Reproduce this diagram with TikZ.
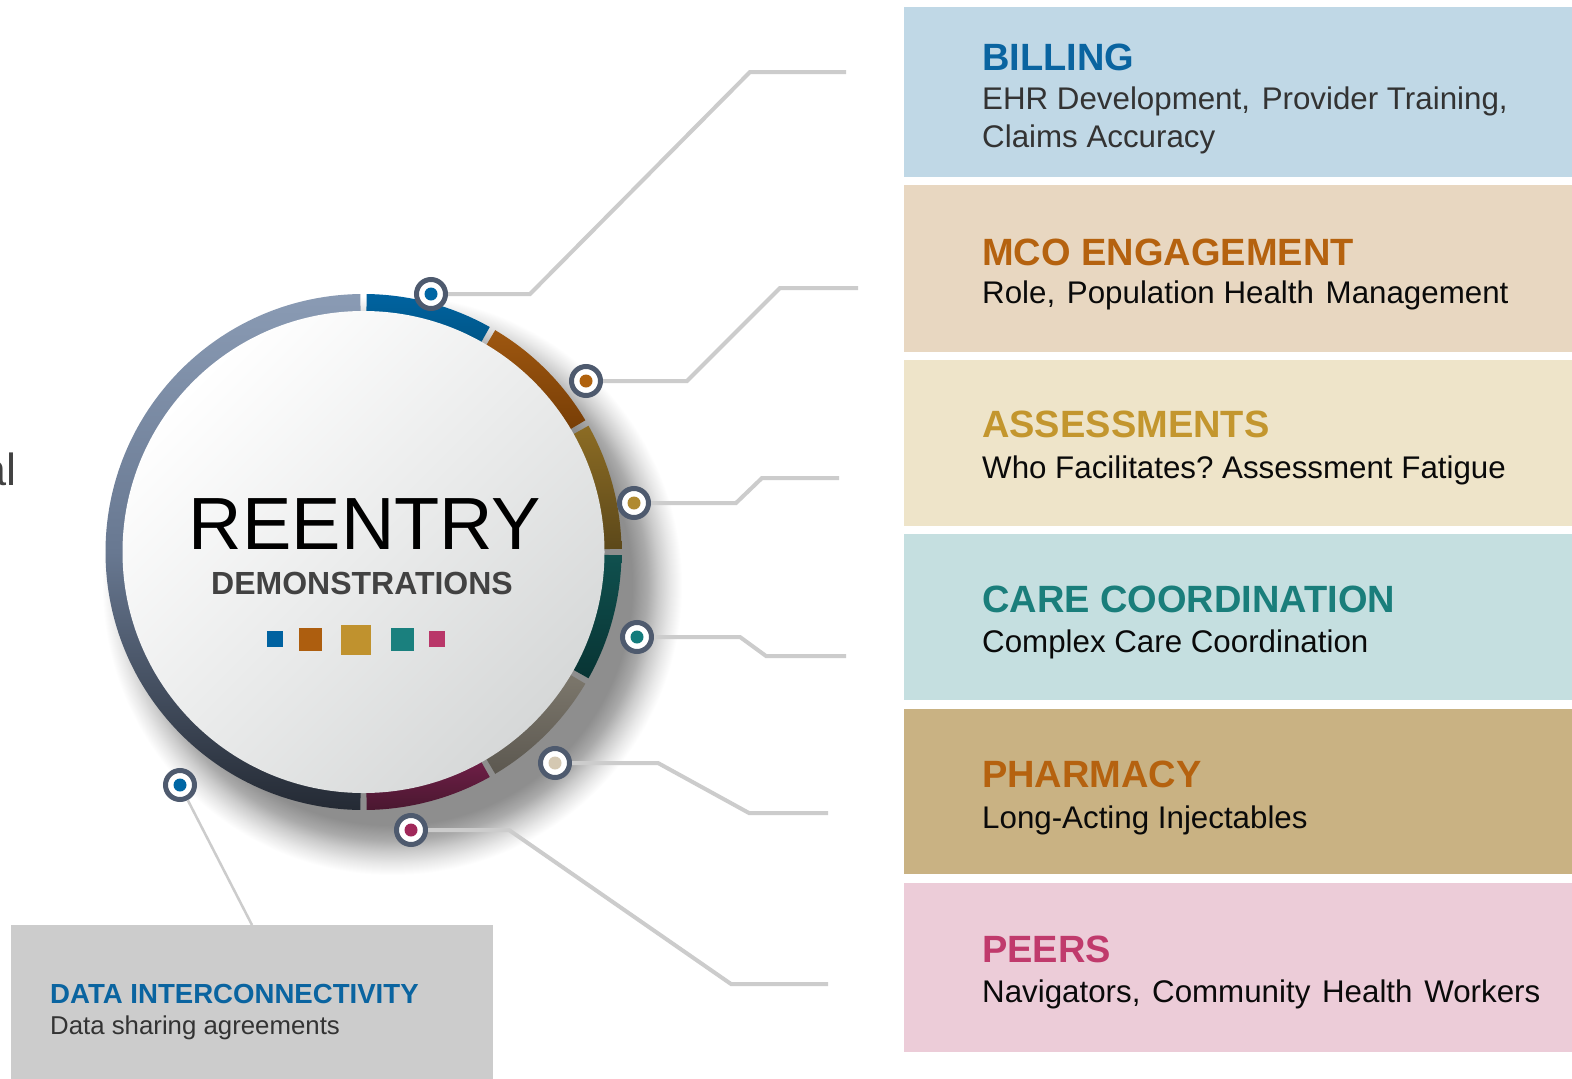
\documentclass[tikz,border=0pt]{standalone}
\usepackage{fontspec}
\setmainfont{Liberation Sans}

% palette
\definecolor{billbg}{HTML}{C0D8E6}
\definecolor{mcobg}{HTML}{E8D7C1}
\definecolor{assessbg}{HTML}{EEE4C9}
\definecolor{carebg}{HTML}{C5DFE0}
\definecolor{pharmbg}{HTML}{C9B283}
\definecolor{peersbg}{HTML}{ECCCD8}
\definecolor{databg}{HTML}{CCCCCC}
\definecolor{tblue}{HTML}{0A64A0}
\definecolor{tbrown}{HTML}{B5620F}
\definecolor{tgold}{HTML}{C3962E}
\definecolor{tteal}{HTML}{1A7E7B}
\definecolor{tpink}{HTML}{C03A6C}
\definecolor{dgray}{HTML}{333333}
\definecolor{dblack}{HTML}{0A0A0A}
\definecolor{connc}{HTML}{CCCCCC}
\definecolor{mring}{HTML}{4E5A6E}
\definecolor{demo}{HTML}{424242}
\definecolor{discgray}{HTML}{D6D8D8}
\definecolor{sqblue}{HTML}{0062A0}
\definecolor{sqbrown}{HTML}{AD5E0F}
\definecolor{sqgold}{HTML}{C0922E}
\definecolor{sqteal}{HTML}{1A807E}
\definecolor{sqpink}{HTML}{B93769}
\definecolor{dotblue}{HTML}{0066A4}
\definecolor{dotbrown}{HTML}{B0620E}
\definecolor{dotgold}{HTML}{B08A30}
\definecolor{dotteal}{HTML}{137B7B}
\definecolor{dotbeige}{HTML}{D4C8B2}
\definecolor{dotmaroon}{HTML}{A0285A}
\definecolor{shdark}{HTML}{8E8E8E}
\definecolor{shmidA}{HTML}{AAAAAA}
\definecolor{shmidB}{HTML}{CCCCCC}
\definecolor{shlight}{HTML}{E8E8E8}

% soft drop shadow under the dial (25bp = rim of the shaded circle)
\pgfdeclareradialshading{dialshadow}{\pgfpoint{0bp}{0bp}}{%
  color(0bp)=(shdark); color(20.7bp)=(shdark); color(22bp)=(shmidA);
  color(23bp)=(shmidB); color(24bp)=(shlight); color(25bp)=(white);
  color(50bp)=(white)}

% one coloured sector of the outer ring (angles in degrees, clockwise from #1 to #2)
\newcommand\ringseg[4]{%
  \shade[top color=#3, bottom color=#4]
    (#1:258) arc[start angle=#1, end angle=#2, radius=258]
    -- (#2:240) arc[start angle=#2, end angle=#1, radius=240] -- cycle;}

\newcommand\wsp{\hspace{3pt} }

\begin{document}
\frenchspacing
\begin{tikzpicture}[x=1pt, y=1pt,
  marker/.style={circle, draw=mring, line width=5pt, fill=white,
    minimum size=29pt, inner sep=0pt,
    path picture={\fill[#1] (path picture bounding box.center) circle (6.5pt);}},
  conn/.style={draw=connc, line width=4pt},
  band/.style={anchor=north west, inner sep=0pt, minimum width=670pt, fill=#1},
  ttl/.style={anchor=base west, inner sep=0pt,
    font=\bfseries\fontsize{38}{45}\selectfont, text=#1},
  dsc/.style={anchor=base west, inner sep=0pt,
    font=\fontsize{31.3}{38}\selectfont, text=#1},
  sq/.style={fill=#1, inner sep=0pt}]

\clip (0,0) rectangle (1572,-1079);
\fill[white] (0,0) rectangle (1572,-1079);

% shadow cast by the dial
\shade[shading=dialshadow] (392,-585) circle (290);

% cut-off word at the left edge
\node[anchor=base east, inner sep=0pt, font=\fontsize{45}{50}\selectfont,
  text=demo] (cut) at (16.5,-485) {al};

% ---- right-hand category bands ----
\node[band=billbg,   minimum height=170pt] (billing) at (903.5,-7)   {};
\node[band=mcobg,    minimum height=167pt] (mco)     at (903.5,-185) {};
\node[band=assessbg, minimum height=166pt] (assess)  at (903.5,-360) {};
\node[band=carebg,   minimum height=166pt] (care)    at (903.5,-534) {};
\node[band=pharmbg,  minimum height=165pt] (pharm)   at (903.5,-709) {};
\node[band=peersbg,  minimum height=169pt] (peers)   at (903.5,-883) {};

\node[ttl=tblue]  (billingT) at (982,-70)   {BILLING};
\node[dsc=dgray]  (billingA) at (982,-109)  {EHR Development,\wsp Provider Training,};
\node[dsc=dgray]  (billingB) at (982,-147)  {Claims Accuracy};
\node[ttl=tbrown] (mcoT)     at (982,-265)  {MCO ENGAGEMENT};
\node[dsc=dblack] (mcoA)     at (982,-303)  {Role,\wsp Population Health\wsp Management};
\node[ttl=tgold]  (assessT)  at (982,-437)  {ASSESSMENTS};
\node[dsc=dblack] (assessA)  at (982,-478)  {Who Facilitates? Assessment Fatigue};
\node[ttl=tteal]  (careT)    at (982,-612)  {CARE COORDINATION};
\node[dsc=dblack] (careA)    at (982,-652)  {Complex Care Coordination};
\node[ttl=tbrown] (pharmT)   at (982,-787)  {PHARMACY};
\node[dsc=dblack] (pharmA)   at (982,-828)  {Long-Acting Injectables};
\node[ttl=tpink]  (peersT)   at (982,-962)  {PEERS};
\node[dsc=dblack] (peersA)   at (982,-1002) {Navigators,\wsp Community\wsp Health\wsp Workers};

% ---- data box ----
\node[anchor=north west, fill=databg, minimum width=482pt, minimum height=160pt,
  inner sep=0pt] (dbox) at (11,-925) {};
\node[anchor=base west, inner sep=0pt, font=\bfseries\fontsize{27.6}{33}\selectfont,
  text=tblue] (dboxT) at (50,-1003) {DATA INTERCONNECTIVITY};
\node[anchor=base west, inner sep=0pt, font=\fontsize{25.8}{31}\selectfont,
  text=dgray] (dboxA) at (50,-1034) {Data sharing agreements};

% ---- central dial ----
\begin{scope}[shift={(363.5,-552)}]
  % left half of the ring
  \shade[top color={rgb,255:red,138;green,155;blue,180},
         bottom color={rgb,255:red,36;green,42;blue,52},
         middle color={rgb,255:red,104;green,120;blue,145}]
    (90.7:258) arc[start angle=90.7, end angle=269.3, radius=258]
    -- (269.3:240) arc[start angle=269.3, end angle=90.7, radius=240] -- cycle;
  % coloured sectors on the right
  \ringseg{89.3}{60.7}{{rgb,255:red,0;green,99;blue,160}}{{rgb,255:red,0;green,86;blue,136}}
  \ringseg{59.3}{30.7}{{rgb,255:red,158;green,87;blue,16}}{{rgb,255:red,120;green,62;blue,6}}
  \ringseg{29.3}{0.7}{{rgb,255:red,140;green,108;blue,36}}{{rgb,255:red,92;green,72;blue,26}}
  \ringseg{-0.7}{-29.3}{{rgb,255:red,16;green,80;blue,78}}{{rgb,255:red,8;green,52;blue,52}}
  \ringseg{-30.7}{-59.3}{{rgb,255:red,124;green,119;blue,108}}{{rgb,255:red,92;green,88;blue,80}}
  \ringseg{-60.7}{-89.3}{{rgb,255:red,110;green,30;blue,70}}{{rgb,255:red,74;green,24;blue,48}}
  % face
  \shade[top color=white, bottom color=discgray, shading angle=45] (0,0) circle (241);
\end{scope}

\node[anchor=base, inner sep=0pt, font=\fontsize{74}{80}\selectfont] (title)
  at (365,-549) {REENTRY};
\node[anchor=base, inner sep=0pt, font=\bfseries\fontsize{32}{36}\selectfont,
  text=demo] (subtitle) at (362,-594) {DEMONSTRATIONS};

\node[sq=sqblue,  minimum size=16pt] (s1) at (275,-639) {};
\node[sq=sqbrown, minimum size=23pt] (s2) at (310,-639) {};
\node[sq=sqgold,  minimum size=30pt] (s3) at (356,-640) {};
\node[sq=sqteal,  minimum size=23pt] (s4) at (402,-639) {};
\node[sq=sqpink,  minimum size=16pt] (s5) at (437,-639) {};

% ---- markers ----
\node[marker=dotblue]   (mb)  at (431,-294) {};
\node[marker=dotbrown]  (mbr) at (586,-381) {};
\node[marker=dotgold]   (mg)  at (634,-503) {};
\node[marker=dotteal]   (mt)  at (637,-637) {};
\node[marker=dotbeige]  (mbe) at (555,-763) {};
\node[marker=dotmaroon] (mm)  at (411,-830) {};
\node[marker=dotblue]   (md)  at (180,-785) {};

% ---- leader lines ----
\coordinate (b1) at (530,-294); \coordinate (b2) at (750,-72);  \coordinate (b3) at (846,-72);
\coordinate (r1) at (687,-381); \coordinate (r2) at (780,-288); \coordinate (r3) at (858,-288);
\coordinate (g1) at (736,-503); \coordinate (g2) at (762,-478); \coordinate (g3) at (839,-478);
\coordinate (t1) at (740,-637); \coordinate (t2) at (766,-656); \coordinate (t3) at (846,-656);
\coordinate (e1) at (658,-763); \coordinate (e2) at (749,-813); \coordinate (e3) at (828,-813);
\coordinate (m1) at (509,-830); \coordinate (m2) at (731,-984); \coordinate (m3) at (828,-984);
\coordinate (dl) at (252,-925);

\draw[conn] (mb.east)  -- (b1) -- (b2) -- (b3);
\draw[conn] (mbr.east) -- (r1) -- (r2) -- (r3);
\draw[conn] (mg.east)  -- (g1) -- (g2) -- (g3);
\draw[conn] (mt.east)  -- (t1) -- (t2) -- (t3);
\draw[conn] (mbe.east) -- (e1) -- (e2) -- (e3);
\draw[conn] (mm.east)  -- (m1) -- (m2) -- (m3);
\draw[connc, line width=2.5pt] (md) -- (dl);
\end{tikzpicture}
\end{document}
